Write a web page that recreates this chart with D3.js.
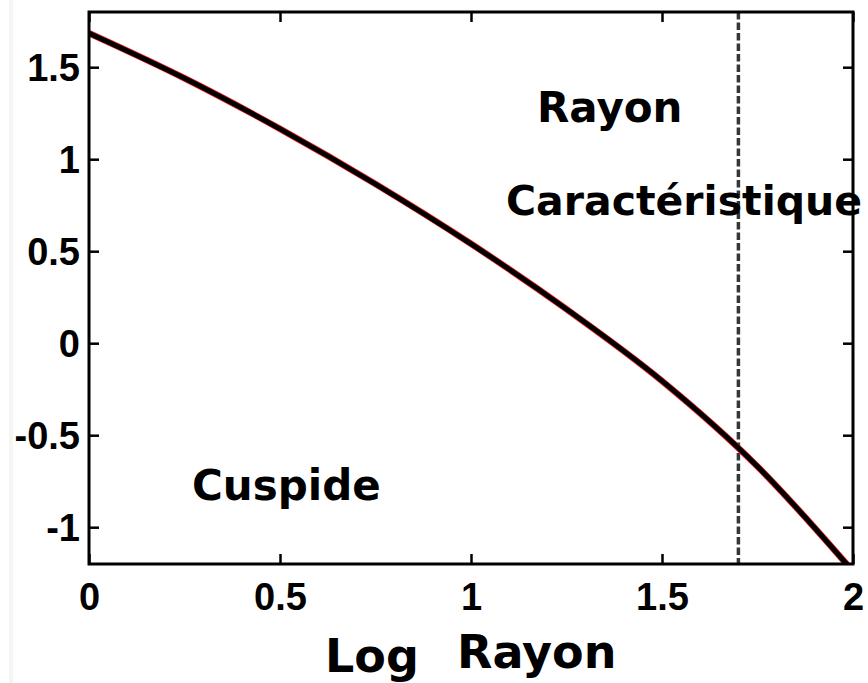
<!DOCTYPE html>
<html>
<head>
<meta charset="utf-8">
<script src="https://cdn.jsdelivr.net/npm/d3@7"></script>
<style>
  body { margin: 0; background: #fff; }
  svg { display: block; }
</style>
</head>
<body>
<svg id="chart" width="868" height="683"></svg>
<script>
// profile data
var logRayon = [0, 0.25, 0.5, 0.75, 1.0, 1.25, 1.5, 1.75, 2.0];
var profil   = [1.685, 1.44, 1.165, 0.865, 0.54, 0.185, -0.205, -0.67, -1.24];

var xTicks = [0, 0.5, 1, 1.5, 2];
var yTicks = [-1, -0.5, 0, 0.5, 1, 1.5];
var rayonCaracteristique = 1.7;

// plot box edges in pixels ('top' is taken by window.top)
var boxLeft = 89, boxRight = 853, boxTop = 12, boxBottom = 564;

var svg = d3.select('svg#chart');

var x = d3.scaleLinear().domain([0, 2]).range([boxLeft, boxRight]);
var y = d3.scaleLinear().domain([-1.2, 1.8]).range([boxBottom, boxTop]);

// faint strip at the left edge of the original scan
svg.append('rect')
	.attr('x', 9).attr('y', 0)
	.attr('width', 4).attr('height', 683)
	.style('fill', '#f3f7f3');

svg.append('clipPath')
	.attr('id', 'plot')
	.append('rect')
	.attr('x', boxLeft).attr('y', boxTop)
	.attr('width', boxRight - boxLeft).attr('height', boxBottom - boxTop);

// dashed line at the characteristic radius
svg.append('line')
	.attr('x1', x(rayonCaracteristique)).attr('x2', x(rayonCaracteristique))
	.attr('y1', boxTop).attr('y2', boxBottom)
	.style('stroke', '#363636')
	.style('stroke-width', 3.5)
	.style('stroke-dasharray', '7.5,3');

var line = d3.line()
	.x(function (d, i) { return x(logRayon[i]); })
	.y(function (d) { return y(d); })
	.curve(d3.curveMonotoneX);

// red line under a thick black one
svg.append('path')
	.attr('d', line(profil))
	.attr('clip-path', 'url(#plot)')
	.style('fill', 'none')
	.style('stroke', '#e8201a')
	.style('stroke-width', 6.5);

svg.append('path')
	.attr('d', line(profil))
	.attr('clip-path', 'url(#plot)')
	.style('fill', 'none')
	.style('stroke', '#000')
	.style('stroke-width', 5);

// axes with ticks pointing inward on all four sides
var fmt = function (d) { return String(d); };

var xAxis = svg.append('g')
	.attr('transform', 'translate(0,' + boxBottom + ')')
	.call(d3.axisBottom(x).tickValues(xTicks).tickFormat(fmt).tickSizeInner(-10).tickSizeOuter(0));

xAxis.selectAll('text')
	.attr('y', 46)
	.attr('dy', null);

svg.append('g')
	.attr('transform', 'translate(0,' + boxTop + ')')
	.call(d3.axisTop(x).tickValues(xTicks).tickFormat('').tickSizeInner(-10).tickSizeOuter(0));

var yAxis = svg.append('g')
	.attr('transform', 'translate(' + boxLeft + ',0)')
	.call(d3.axisLeft(y).tickValues(yTicks).tickFormat(fmt).tickSizeInner(-10).tickSizeOuter(0));

yAxis.selectAll('text')
	.attr('x', -9)
	.attr('dy', '0.36em');

svg.append('g')
	.attr('transform', 'translate(' + boxRight + ',0)')
	.call(d3.axisRight(y).tickValues(yTicks).tickFormat('').tickSizeInner(-10).tickSizeOuter(0));

svg.selectAll('.domain').remove();

svg.selectAll('.tick line')
	.style('stroke', '#000')
	.style('stroke-width', 2.5);

svg.selectAll('.tick text')
	.style('font-family', '"Liberation Sans", Arial, sans-serif')
	.style('font-weight', 'bold')
	.style('font-size', '38px')
	.style('fill', '#000');

// box
svg.append('rect')
	.attr('x', boxLeft).attr('y', boxTop)
	.attr('width', boxRight - boxLeft).attr('height', boxBottom - boxTop)
	.style('fill', 'none')
	.style('stroke', '#000')
	.style('stroke-width', 3);

// annotations
var labels = [
	{ text: 'Rayon', x: 537, y: 122, size: 42 },
	{ text: 'Caractéristique', x: 506, y: 215, size: 41 },
	{ text: 'Cuspide', x: 192, y: 500, size: 42 },
	{ text: 'Log', x: 325, y: 672, size: 46 },
	{ text: 'Rayon', x: 457, y: 668, size: 46 }
];

svg.selectAll('text.label')
	.data(labels)
	.enter()
	.append('text')
	.attr('class', 'label')
	.attr('x', function (d) { return d.x; })
	.attr('y', function (d) { return d.y; })
	.text(function (d) { return d.text; })
	.style('font-family', '"DejaVu Sans", Verdana, sans-serif')
	.style('font-weight', 'bold')
	.style('font-size', function (d) { return d.size + 'px'; })
	.style('fill', '#000');
</script>
</body>
</html>
